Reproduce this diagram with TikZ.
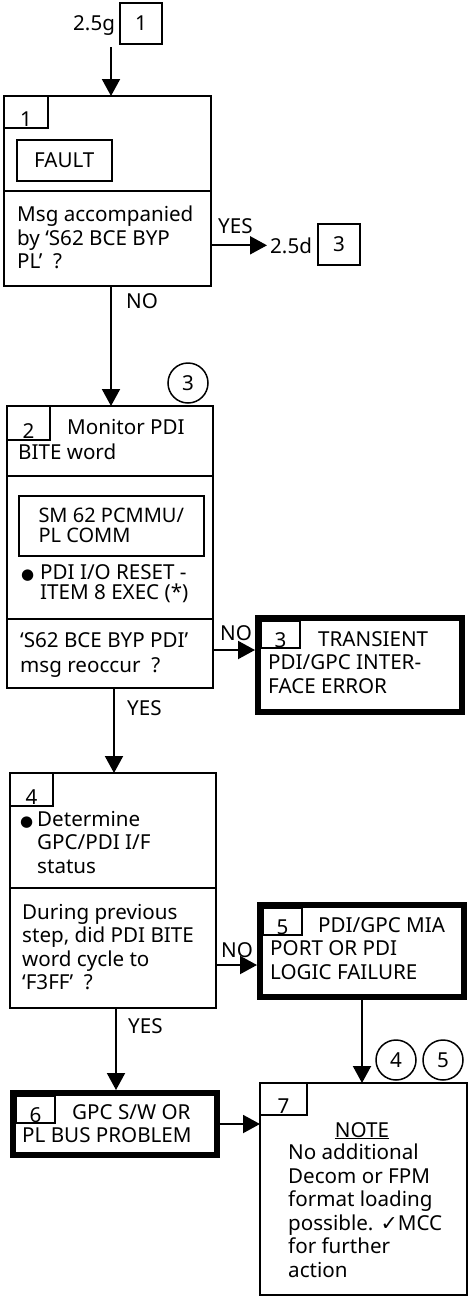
\documentclass[tikz,border=0pt]{standalone}
\usepackage{fontspec}
\setmainfont{Noto Sans}
\newfontfamily\dejavu{DejaVu Sans}
\usepackage{tikz}
\usetikzlibrary{positioning,arrows.meta}
\newcommand\diagfont{\fontsize{20.6pt}{23.5pt}\selectfont}
\newcommand\blob{{\dejavu\fontsize{15pt}{15pt}\selectfont ●}}
\newcommand\topline{\rule{0pt}{16pt}}

\begin{document}
\begin{tikzpicture}[x=1pt,y=-1pt,every node/.style={font=\diagfont},
    box/.style={draw,line width=2pt,minimum width=206pt,outer sep=0pt},
    endbox/.style={draw,line width=6pt,minimum width=204pt},
    tab/.style={draw,line width=1.5pt,anchor=north west,outer sep=0pt,text height=25pt,text depth=0pt,inner ysep=0pt,inner xsep=0pt},
    refbox/.style={draw,line width=1.5pt,minimum width=42pt,minimum height=41pt},
    inbox/.style={draw,line width=1.5pt,anchor=north west,align=left},
    txt/.style={anchor=north west,inner sep=0pt,align=left,execute at begin node=\topline},
    lbl/.style={anchor=base west,inner sep=0pt},
    ring/.style={draw,circle,line width=1.5pt,minimum size=40pt,inner sep=0pt},
    arr/.style={line width=2pt,-{Triangle[length=17pt,width=18pt]}}]
    \useasboundingbox (0,0) rectangle (474,1312);

    % entry
    \node[lbl] (g25) at (73,30) {2.5g};
    \node[refbox] (g25n) at (141,23.5) {1};
    \coordinate (entry) at (111,47);

    % step 1
    \node[box,minimum width=207pt,minimum height=95pt] (b1a) at (107.5,143.5) {};
    \node[box,minimum width=207pt,minimum height=95pt,below=0pt of b1a] (b1b) {};
    \node[tab,minimum width=44pt,minimum height=32pt,text height=28pt] (t1) at (b1a.north west) {1};
    \node[inbox,minimum width=95pt,minimum height=41pt] (fault) at (16,139) {FAULT};
    \node[txt] (q1) at (17,206) {Msg accompanied\\by `S62 BCE BYP\\PL'\ \ ?};
    \node[lbl] (yes1) at (218,233) {YES};
    \node[lbl,inner xsep=3pt] (d25) at (267,253) {2.5d};
    \node[refbox] (d25n) at (339,244.5) {3};
    \node[lbl] (no1) at (126,308) {NO};
    \node[ring] (c3) at (188,383) {3};

    % step 2
    \node[box,minimum height=70pt] (b2a) at (110,441) {};
    \node[box,minimum height=143pt,below=0pt of b2a] (b2b) {};
    \node[box,minimum height=69pt,below=0pt of b2b] (b2c) {};
    \node[tab,minimum width=43pt,minimum height=34pt,text height=30pt] (t2) at (b2a.north west) {2};
    \node[txt] (mon) at (18,419) {\hspace*{49pt}Monitor PDI\\[1.5pt]BITE word};
    \node[inbox,minimum width=185pt,minimum height=60pt,font=\fontsize{20pt}{20pt}\selectfont] (sm62) at (18,495) {SM 62 PCMMU/\\PL COMM};
    \node[txt] (reset) at (21,564) {\makebox[19pt][l]{\blob}PDI I/O RESET -\\[-3pt]\hspace*{19pt}ITEM 8 EXEC (*)};
    \node[txt] (q2) at (20,632) {`S62 BCE BYP PDI'\\[1.5pt]msg reoccur\ \ ?};
    \node[lbl] (no2) at (220,640) {NO};
    \node[lbl] (yes2) at (127,715) {YES};

    % step 3
    \node[endbox,minimum height=94pt] (b3) at (360,665) {};
    \node[tab,minimum width=39pt,minimum height=27pt] (t3) at (261,621) {3};
    \node[txt] (trans) at (268,631) {\hspace*{50pt}TRANSIENT\\PDI/GPC INTER-\\FACE ERROR};

    % step 4
    \node[box,minimum height=115pt] (b4a) at (113,830.5) {};
    \node[box,minimum height=120pt,below=0pt of b4a] (b4b) {};
    \node[tab,minimum width=43pt,minimum height=33pt,text height=29pt] (t4) at (b4a.north west) {4};
    \node[txt] (det) at (20,811) {\makebox[17pt][l]{\blob}Determine\\\hspace*{17pt}GPC/PDI I/F\\\hspace*{17pt}status};
    \node[txt] (q4) at (22,904) {During previous\\step, did PDI BITE\\word cycle to\\`F3FF'\ \ ?};
    \node[lbl] (no3) at (221,957) {NO};
    \node[lbl] (yes3) at (128,1033) {YES};

    % step 5
    \node[endbox,minimum height=92pt] (b5) at (362,951) {};
    \node[tab,minimum width=39pt,minimum height=27pt] (t5) at (263,908) {5};
    \node[txt] (mia) at (270,917) {\hspace*{48pt}PDI/GPC MIA\\PORT OR PDI\\LOGIC FAILURE};

    % step 6
    \node[endbox,minimum height=62pt] (b6) at (115,1124) {};
    \node[tab,minimum width=39pt,minimum height=27pt] (t6) at (16,1096) {6};
    \node[txt] (gpc) at (22,1104) {\hspace*{50pt}GPC S/W OR\\PL BUS PROBLEM};

    % step 7
    \node[box,minimum width=207pt,minimum height=212pt] (b7) at (363.5,1189) {};
    \node[tab,minimum width=47pt,minimum height=32pt,text height=28pt] (t7) at (b7.north west) {7};
    \node[lbl,anchor=base] (note) at (362,1137) {\underline{NOTE}};
    \node[txt] (notetxt) at (288,1144) {No additional\\Decom or FPM\\format loading\\possible. {\dejavu ✓}MCC\\for further\\action};
    \node[ring] (c4) at (396,1060) {4};
    \node[ring] (c5) at (443,1060) {5};

    \draw[arr] (entry) -- (entry |- b1a.north);
    \draw[arr] (d25.west -| b1b.east) -- (d25.west);
    \draw[arr] (b1b.south -| entry) -- (b2a.north -| entry);
    \draw[arr] ([yshift=3.5pt]b2c.east) -- ([yshift=3.5pt]b2c.east -| b3.west);
    \draw[arr] ([xshift=4pt]b2c.south) -- ([xshift=4pt]b2c.south |- b4a.north);
    \draw[arr] ([yshift=-17pt]b4b.east) -- ([yshift=-17pt]b4b.east -| b5.west);
    \draw[arr] ([xshift=3pt]b4b.south) -- ([xshift=3pt]b4b.south |- b6.north);
    \draw[arr] (b5.south) -- (b5.south |- b7.north);
    \draw[arr] (b6.east) -- (b6.east -| b7.west);
\end{tikzpicture}
\end{document}
